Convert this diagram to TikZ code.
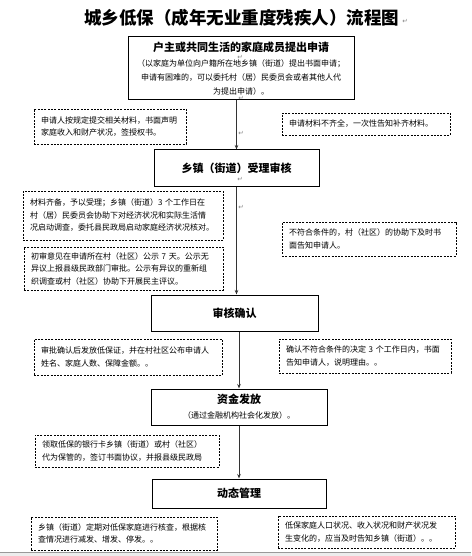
\documentclass[tikz,border=0pt]{standalone}
\usepackage{fontspec}
\newfontfamily\cjk{Noto Sans CJK SC}
\newfontfamily\symfont{DejaVu Sans}
\usetikzlibrary{arrows.meta}

\tikzset{
  stepbox/.style={draw, line width=1pt, align=center, inner sep=0pt,
    font=\cjk\bfseries\fontsize{11}{14}\selectfont},
  notebox/.style={draw, dash pattern=on 2pt off 1.3pt, line width=0.8pt,
    align=left, inner xsep=7pt, inner ysep=0pt,
    font=\cjk\fontsize{8}{12.5}\selectfont},
  flow/.style={-{Stealth[length=4.5pt,width=3.5pt]}, line width=0.9pt, draw=black!80},
  retmark/.style={font=\symfont\fontsize{6.5}{6.5}\selectfont, text=black!50, inner sep=0pt}
}

\begin{document}
\begin{tikzpicture}[x=1pt,y=-1pt]
\useasboundingbox (0,0) rectangle (471,556);
\fill[black!7] (0,552) rectangle (471,556);
\draw[black!40] (0,552) -- (471,552);

% title
\node[font=\cjk\bfseries\fontsize{17.5}{20}\selectfont] (tTitle) at (241.5,18)
  {城乡低保（成年无业重度残疾人）流程图};

% main steps
\node[stepbox, minimum width=226, minimum height=63] (bApply) at (241,68.5)
  {户主或共同生活的家庭成员提出申请\\[1pt]
   {\mdseries\fontsize{8}{12}\selectfont （以家庭为单位向户籍所在地乡镇（街道）提出书面申请；}\\
   {\mdseries\fontsize{8}{12}\selectfont 申请有困难的，可以委托村（居）民委员会或者其他人代}\\
   {\mdseries\fontsize{8}{12}\selectfont 为提出申请）。}};
\node[stepbox, minimum width=165, minimum height=36] (bAccept) at (236.5,168)
  {乡镇（街道）受理审核};
\node[stepbox, minimum width=167, minimum height=36] (bConfirm) at (234.5,313)
  {审核确认};
\node[stepbox, minimum width=176, minimum height=36] (bFund) at (239,407)
  {资金发放\\[1pt]
   {\mdseries\fontsize{8}{12}\selectfont （通过金融机构社会化发放）。}};
\node[stepbox, minimum width=174, minimum height=29] (bManage) at (239,493.5)
  {动态管理};

% notes
\node[notebox, text width=138, minimum height=35] (nApplyL) at (110,126.5)
  {申请人按规定提交相关材料，书面声明\\家庭收入和财产状况，签授权书。};
\node[notebox, text width=154, minimum height=22] (nApplyR) at (366,124)
  {申请材料不齐全，一次性告知补齐材料。};
\node[notebox, text width=186, minimum height=49] (nAcceptL) at (123,215.5)
  {材料齐备，予以受理；乡镇（街道）3 个工作日在\\
   村（居）民委员会协助下对经济状况和实际生活情\\
   况启动调查，委托县民政局启动家庭经济状况核对。};
\node[notebox, text width=185, minimum height=43] (nPublicL) at (123.5,268.5)
  {初审意见在申请所在村（社区）公示 7 天。公示无\\
   异议上报县级民政部门审批。公示有异议的重新组\\
   织调查或村（社区）协助下开展民主评议。};
\node[notebox, text width=160, minimum height=34] (nAcceptR) at (369,239)
  {不符合条件的，村（社区）的协助下及时书\\面告知申请人。};
\node[notebox, text width=174, minimum height=36] (nConfirmL) at (128,357)
  {审批确认后发放低保证，并在村社区公布申请人\\姓名、家庭人数、保障金额。。};
\node[notebox, text width=158, minimum height=34] (nConfirmR) at (365,356)
  {确认不符合条件的决定 3 个工作日内，书面\\告知申请人，说明理由。。};
\node[notebox, text width=170, minimum height=32] (nFundL) at (127,451)
  {领取低保的银行卡乡镇（街道）或村（社区）\\代为保管的，签订书面协议，并报县级民政局};
\node[notebox, text width=172, minimum height=33] (nManageL) at (124,533.5)
  {乡镇（街道）定期对低保家庭进行核查，根据核\\查情况进行减发、增发、停发。。};
\node[notebox, text width=163, minimum height=32] (nManageR) at (366.5,532)
  {低保家庭人口状况、收入状况和财产状况发\\生变化的，应当及时告知乡镇（街道）。。};

% flow
\draw[flow] (bApply.south -| bAccept) -- (bAccept.north);
\draw[flow] (bAccept.south) -- (bAccept |- bConfirm.north);
\draw[flow] (bConfirm.south -| bFund) -- (bFund.north);
\draw[flow] (bFund.south) -- (bManage.north);

% paragraph marks
\foreach \x/\y/\i in {405/21/1, 240/57/2, 241/98.5/3, 241/133/4, 240/179/5, 241/207/6}
{
    \node[retmark] (mRet\i) at (\x,\y) {↵};
};
\end{tikzpicture}
\end{document}
